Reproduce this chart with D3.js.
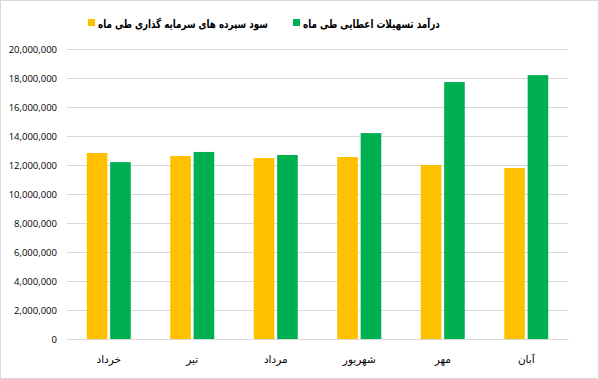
<!DOCTYPE html>
<html>
<head>
<meta charset="utf-8">
<script src="https://cdnjs.cloudflare.com/ajax/libs/d3/7.8.5/d3.min.js"></script>
<style>
  html, body { margin: 0; padding: 0; background: #fff; }
  svg { display: block; }
</style>
</head>
<body>
<div class="chart"></div>
<script>
var months = ["خرداد", "تیر", "مرداد", "شهریور", "مهر", "آبان"];
var seriesNames = ["سود سپرده های سرمایه گذاری طی ماه", "درآمد تسهیلات اعطایی طی ماه"];
var depositProfit = [12830000, 12620000, 12480000, 12550000, 12000000, 11790000];
var loanIncome = [12200000, 12900000, 12690000, 14200000, 17720000, 18200000];
var yTicks = [0, 2000000, 4000000, 6000000, 8000000, 10000000, 12000000, 14000000, 16000000, 18000000, 20000000];
var colors = ["#FFC000", "#00B050"];

var width = 599, height = 379;
var margin = {top: 49, right: 31, bottom: 40, left: 67};

var svg = d3.select(".chart").append("svg")
  .attr("width", width)
  .attr("height", height);

// outer border
svg.append("rect")
  .attr("x", 0.5).attr("y", 0.5)
  .attr("width", width - 1).attr("height", height - 1)
  .attr("fill", "#fff")
  .attr("stroke", "#d9d9d9");

var x = d3.scaleBand()
  .domain(months)
  .range([margin.left, width - margin.right]);

var y = d3.scaleLinear()
  .domain([0, 20000000])
  .range([height - margin.bottom, margin.top]);

var x1 = d3.scaleBand()
  .domain([0, 1])
  .range([0, 44])
  .paddingInner(0.12);

// grid + y labels
var yAxis = d3.axisLeft(y)
  .tickValues(yTicks)
  .tickSize(-(width - margin.left - margin.right))
  .tickPadding(10)
  .tickFormat(d3.format(","));

var gy = svg.append("g")
  .attr("transform", "translate(" + margin.left + ",0)")
  .call(yAxis);
gy.select(".domain").remove();
gy.selectAll(".tick line").attr("stroke", "#d9d9d9");
gy.selectAll(".tick text")
  .attr("fill", "#000")
  .style("font-family", "'Open Sans', sans-serif")
  .style("font-size", "9.5px");

// bars
var series = [depositProfit, loanIncome];
var groups = svg.append("g").selectAll("g")
  .data(months)
  .enter().append("g")
    .attr("transform", function(d) {
      return "translate(" + (x(d) + x.bandwidth() / 2 - 22) + ",0)";
    });

groups.selectAll("rect")
  .data(function(d, i) {
    return series.map(function(s, k) { return {k: k, v: s[i]}; });
  })
  .enter().append("rect")
    .attr("x", function(d) { return x1(d.k); })
    .attr("width", x1.bandwidth())
    .attr("y", function(d) { return y(d.v); })
    .attr("height", function(d) { return y(0) - y(d.v); })
    .attr("fill", function(d) { return colors[d.k]; });

// x axis
var xAxis = d3.axisBottom(x).tickSize(0).tickPadding(17);
var gx = svg.append("g")
  .attr("transform", "translate(0," + y(0) + ")")
  .call(xAxis);
gx.select(".domain").attr("stroke", "#d9d9d9");
gx.selectAll(".tick text")
  .attr("fill", "#000")
  .style("font-family", "'DejaVu Sans', sans-serif")
  .style("font-size", "10.5px");

// legend (text squeezed horizontally to the original widths)
var legendX = [88, 293];
var legendW = [170, 137];
var legend = svg.append("g").selectAll("g")
  .data(seriesNames)
  .enter().append("g")
    .attr("transform", function(d, i) { return "translate(" + legendX[i] + ",19)"; });

legend.append("rect")
  .attr("width", 7).attr("height", 7)
  .attr("fill", function(d, i) { return colors[i]; });

legend.append("text")
  .attr("y", 8.5)
  .style("font-family", "'DejaVu Sans', sans-serif")
  .style("font-size", "11.5px")
  .style("font-weight", "bold")
  .text(function(d) { return d; })
  .each(function(d, i) {
    var k = legendW[i] / this.getComputedTextLength();
    d3.select(this).attr("transform", "translate(10,0) scale(" + k + ",1)");
  });
</script>
</body>
</html>
